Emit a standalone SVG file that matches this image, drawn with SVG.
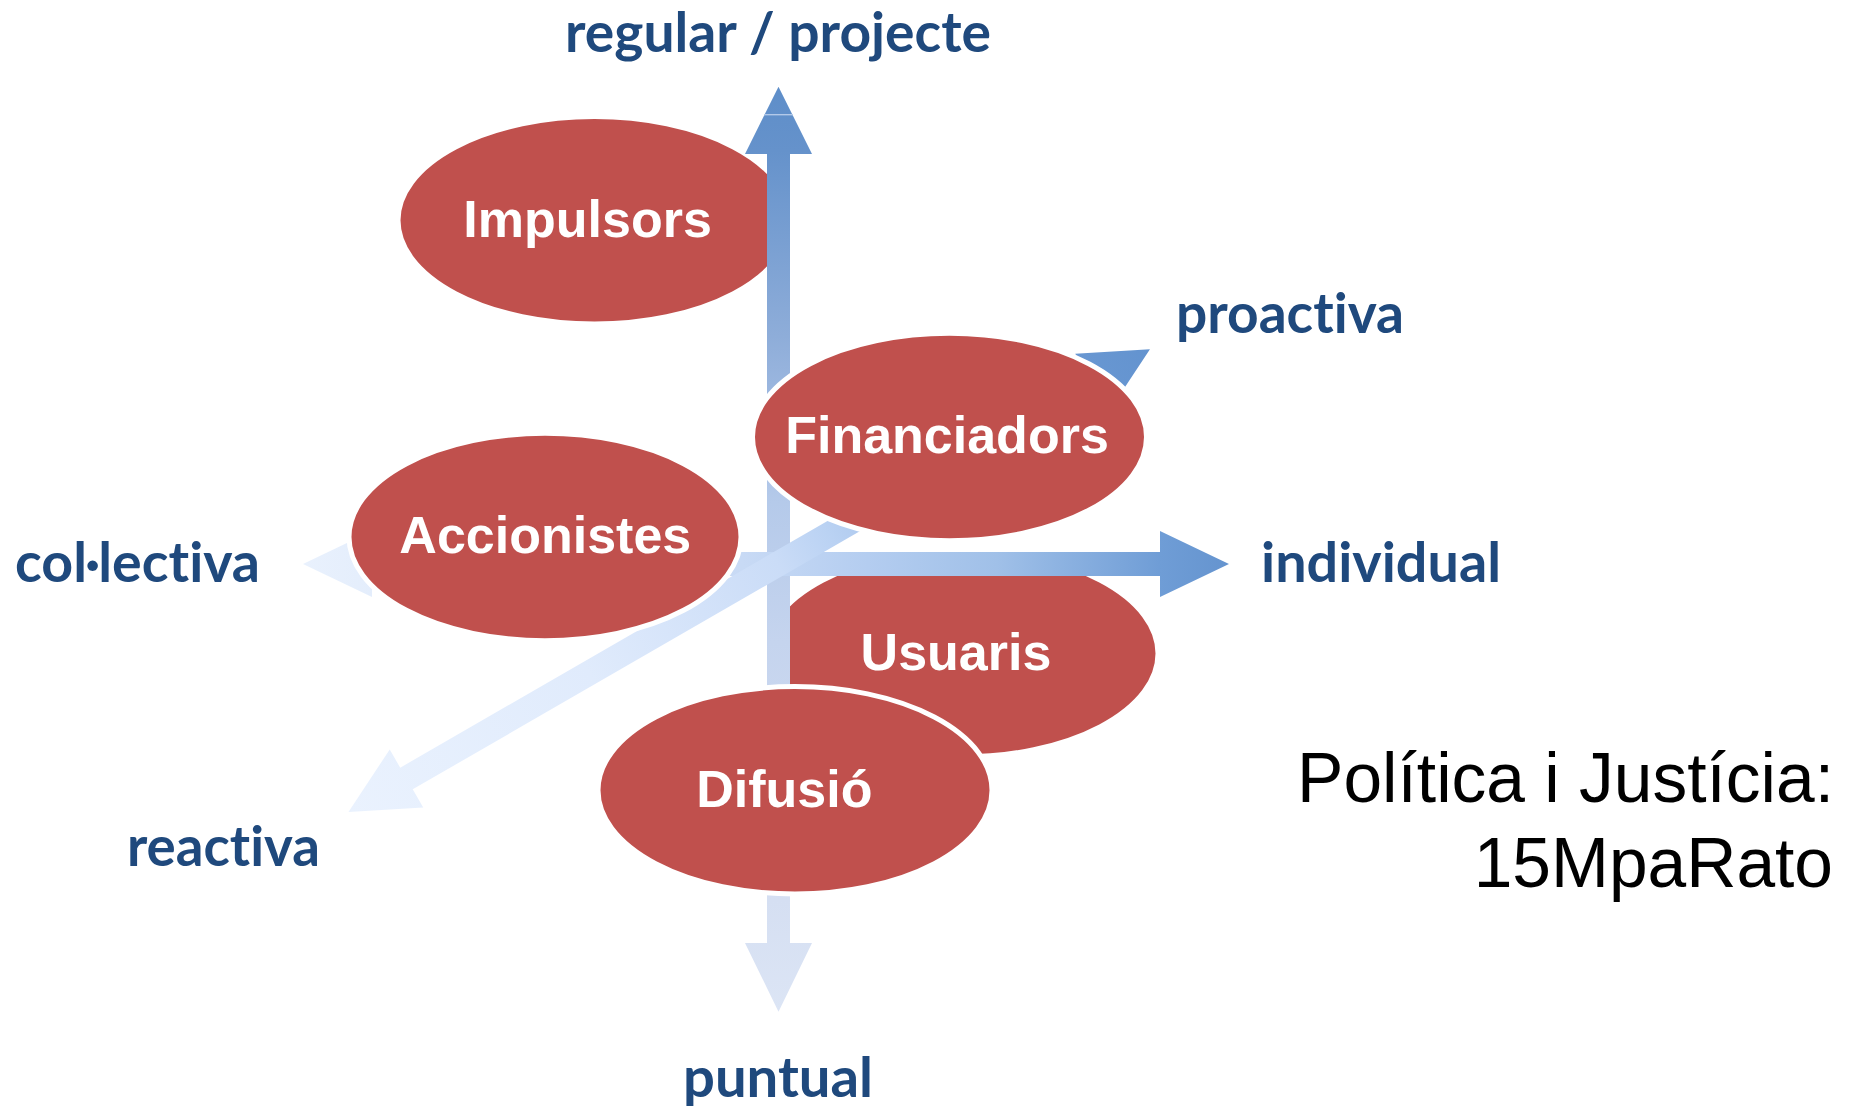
<svg xmlns="http://www.w3.org/2000/svg" width="1852" height="1109" viewBox="0 0 1852 1109">
<style>
.node ellipse{fill:#C0504D;stroke:#FFFFFF;stroke-width:5}
.node text{font-family:"Liberation Sans",Arial,sans-serif;font-weight:700;font-size:52px;fill:#FFFFFF;text-anchor:middle}
.lbl{font-family:Lato,"Open Sans",sans-serif;font-weight:700;font-size:56px;fill:#1F497D;font-variant-ligatures:none;font-feature-settings:"liga" 0,"dlig" 0}
.title{font-family:"Liberation Sans",Arial,sans-serif;font-size:69.5px;fill:#000000;text-anchor:end}
</style>
<defs>
<linearGradient id="gV" gradientUnits="userSpaceOnUse" x1="0" y1="86" x2="0" y2="1012">
<stop offset="0" stop-color="#5E8EC9"/>
<stop offset="0.07" stop-color="#6592CB"/>
<stop offset="0.27" stop-color="#8EADD9"/>
<stop offset="0.32" stop-color="#99B5DE"/>
<stop offset="0.45" stop-color="#B5CAEA"/>
<stop offset="0.6" stop-color="#C5D4EE"/>
<stop offset="0.88" stop-color="#D5DFF2"/>
<stop offset="1" stop-color="#DCE5F5"/>
</linearGradient>
<linearGradient id="gH" gradientUnits="userSpaceOnUse" x1="303" y1="0" x2="1229" y2="0">
<stop offset="0" stop-color="#E9F1FD"/>
<stop offset="0.475" stop-color="#C8DAF5"/>
<stop offset="0.61" stop-color="#B4CDF0"/>
<stop offset="0.75" stop-color="#A0C0E8"/>
<stop offset="0.925" stop-color="#6F9DD6"/>
<stop offset="1" stop-color="#6594CF"/>
</linearGradient>
<linearGradient id="gD" gradientUnits="userSpaceOnUse" x1="-496" y1="0" x2="429.5" y2="0">
<stop offset="0" stop-color="#EAF2FE"/>
<stop offset="0.3" stop-color="#E0EBFC"/>
<stop offset="0.536" stop-color="#CADCF7"/>
<stop offset="0.6" stop-color="#BAD2F3"/>
<stop offset="0.88" stop-color="#6C9AD4"/>
<stop offset="1" stop-color="#6393CF"/>
</linearGradient>
</defs>
<rect width="1852" height="1109" fill="#FFFFFF"/>

<g id="impulsors" class="node">
<ellipse cx="594.5" cy="220.3" rx="196.5" ry="103.7"/>
<text x="587.6" y="237.3">Impulsors</text>
</g>

<g id="usuaris" class="node">
<ellipse cx="961.5" cy="653.5" rx="196.5" ry="103.5"/>
<text x="956" y="669.5">Usuaris</text>
</g>

<g id="connectors">
<polygon id="axis-vertical" fill="url(#gV)" points="778.5,86.7 812,154 790,154 790,943 812,943 778.5,1011.7 745,943 767,943 767,154 745,154"/>
<line x1="764" y1="114.7" x2="793" y2="114.7" stroke="#B8CDEA" stroke-width="1.3"/>
<polygon id="axis-horizontal" fill="url(#gH)" points="303,564 372,531 372,552 1160,552 1160,531 1229,564 1160,597 1160,576 372,576 372,597"/>
<g transform="translate(778 564) rotate(-30)">
<polygon id="axis-diagonal" fill="url(#gD)" points="-496,0 -429,-33.5 -429,-12.5 362.5,-12.5 362.5,-33.5 429.5,0 362.5,33.5 362.5,12.5 -429,12.5 -429,33.5"/>
</g>
</g>

<g id="accionistes" class="node">
<ellipse cx="545" cy="537" rx="196" ry="103.7"/>
<text x="545.3" y="553.3">Accionistes</text>
</g>

<g id="financiadors" class="node">
<ellipse cx="949.5" cy="437" rx="197" ry="103.7"/>
<text x="947" y="453.3">Financiadors</text>
</g>

<g id="difusio" class="node">
<ellipse cx="795" cy="790.3" rx="197" ry="103.7"/>
<text x="784.3" y="806.7">Difusió</text>
</g>

<g id="labels">
<text class="lbl" x="565" y="51.7" textLength="426" lengthAdjust="spacingAndGlyphs">regular / projecte</text>
<text class="lbl" x="1176" y="333.3" textLength="228" lengthAdjust="spacingAndGlyphs">proactiva</text>
<text class="lbl" x="1261" y="581.7" textLength="240" lengthAdjust="spacingAndGlyphs">individual</text>
<text class="lbl" x="15" y="581.7" textLength="245" lengthAdjust="spacingAndGlyphs">col·lectiva</text>
<text class="lbl" x="127" y="865.7" textLength="193" lengthAdjust="spacingAndGlyphs">reactiva</text>
<text class="lbl" x="683" y="1096.5" textLength="190" lengthAdjust="spacingAndGlyphs">puntual</text>
</g>

<g id="title">
<text class="title" x="1834" y="801.7">Política i Justícia:</text>
<text class="title" x="1833" y="886.7">15MpaRato</text>
</g>
</svg>
